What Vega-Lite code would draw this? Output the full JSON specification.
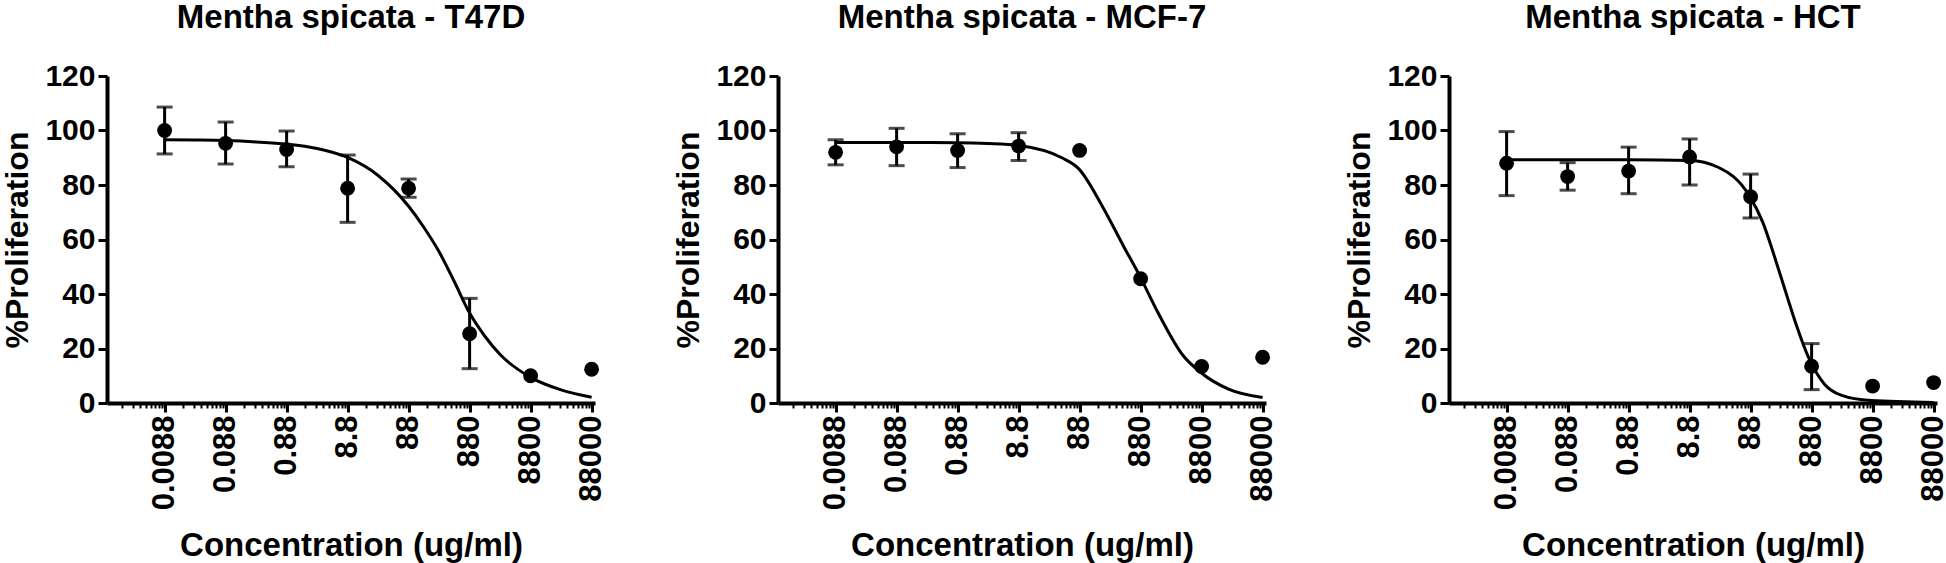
{
  "$schema": "https://vega.github.io/schema/vega-lite/v6.json",
  "padding": {"left": 1, "top": 2, "right": 0, "bottom": 0},
  "background": "white",
  "spacing": 183,
  "bounds": "flush",
  "config": {
    "view": {"stroke": null},
    "axis": {"grid": false, "domainColor": "black", "tickColor": "black", "labelColor": "black", "titleColor": "black", "labelFont": "Liberation Sans", "titleFont": "Liberation Sans", "labelFontWeight": "bold", "titleFontWeight": "bold"},
    "title": {"font": "Liberation Sans", "fontSize": 33, "fontWeight": 700, "color": "black", "offset": 26}
  },
  "datasets": {
    "pts": [
      {"panel": "T47D", "conc": 0.0088, "mean": 100.0, "lo": 91.4, "hi": 108.6},
      {"panel": "T47D", "conc": 0.088, "mean": 95.3, "lo": 87.7, "hi": 103.1},
      {"panel": "T47D", "conc": 0.88, "mean": 93.0, "lo": 86.7, "hi": 99.8},
      {"panel": "T47D", "conc": 8.8, "mean": 78.8, "lo": 66.3, "hi": 91.0},
      {"panel": "T47D", "conc": 88, "mean": 78.8, "lo": 75.5, "hi": 82.2},
      {"panel": "T47D", "conc": 880, "mean": 25.4, "lo": 12.6, "hi": 38.4},
      {"panel": "T47D", "conc": 8800, "mean": 10.0, "lo": null, "hi": null},
      {"panel": "T47D", "conc": 88000, "mean": 12.4, "lo": null, "hi": null},
      {"panel": "MCF-7", "conc": 0.0088, "mean": 92.0, "lo": 87.4, "hi": 96.6},
      {"panel": "MCF-7", "conc": 0.088, "mean": 94.0, "lo": 87.1, "hi": 100.8},
      {"panel": "MCF-7", "conc": 0.88, "mean": 92.7, "lo": 86.4, "hi": 98.8},
      {"panel": "MCF-7", "conc": 8.8, "mean": 94.3, "lo": 89.0, "hi": 99.2},
      {"panel": "MCF-7", "conc": 88, "mean": 92.7, "lo": null, "hi": null},
      {"panel": "MCF-7", "conc": 880, "mean": 45.6, "lo": null, "hi": null},
      {"panel": "MCF-7", "conc": 8800, "mean": 13.4, "lo": null, "hi": null},
      {"panel": "MCF-7", "conc": 88000, "mean": 16.8, "lo": null, "hi": null},
      {"panel": "HCT", "conc": 0.0088, "mean": 88.0, "lo": 76.1, "hi": 99.6},
      {"panel": "HCT", "conc": 0.088, "mean": 83.1, "lo": 78.1, "hi": 88.2},
      {"panel": "HCT", "conc": 0.88, "mean": 85.1, "lo": 76.8, "hi": 93.9},
      {"panel": "HCT", "conc": 8.8, "mean": 90.3, "lo": 80.0, "hi": 96.9},
      {"panel": "HCT", "conc": 88, "mean": 75.7, "lo": 67.9, "hi": 84.0},
      {"panel": "HCT", "conc": 880, "mean": 13.5, "lo": 4.9, "hi": 21.8},
      {"panel": "HCT", "conc": 8800, "mean": 6.2, "lo": null, "hi": null},
      {"panel": "HCT", "conc": 88000, "mean": 7.5, "lo": null, "hi": null}
    ],
    "fit": [
      {"panel": "T47D", "conc": 0.0088, "y": 96.6},
      {"panel": "T47D", "conc": 0.0278, "y": 96.5},
      {"panel": "T47D", "conc": 0.088, "y": 96.3},
      {"panel": "T47D", "conc": 0.278, "y": 95.8},
      {"panel": "T47D", "conc": 0.88, "y": 95.0},
      {"panel": "T47D", "conc": 2.78, "y": 93.4},
      {"panel": "T47D", "conc": 8.8, "y": 90.1},
      {"panel": "T47D", "conc": 27.8, "y": 83.5},
      {"panel": "T47D", "conc": 88, "y": 72.2},
      {"panel": "T47D", "conc": 156, "y": 64.5},
      {"panel": "T47D", "conc": 278, "y": 55.5},
      {"panel": "T47D", "conc": 495, "y": 44.5},
      {"panel": "T47D", "conc": 880, "y": 33.0},
      {"panel": "T47D", "conc": 1565, "y": 24.5},
      {"panel": "T47D", "conc": 2783, "y": 17.8},
      {"panel": "T47D", "conc": 8800, "y": 9.4},
      {"panel": "T47D", "conc": 27830, "y": 4.8},
      {"panel": "T47D", "conc": 88000, "y": 2.1},
      {"panel": "MCF-7", "conc": 0.0088, "y": 95.6},
      {"panel": "MCF-7", "conc": 0.088, "y": 95.6},
      {"panel": "MCF-7", "conc": 0.88, "y": 95.5},
      {"panel": "MCF-7", "conc": 2.78, "y": 95.2},
      {"panel": "MCF-7", "conc": 8.8, "y": 94.5},
      {"panel": "MCF-7", "conc": 45, "y": 90.0},
      {"panel": "MCF-7", "conc": 84, "y": 86.1},
      {"panel": "MCF-7", "conc": 217, "y": 71.4},
      {"panel": "MCF-7", "conc": 476, "y": 57.0},
      {"panel": "MCF-7", "conc": 826, "y": 47.2},
      {"panel": "MCF-7", "conc": 1675, "y": 33.4},
      {"panel": "MCF-7", "conc": 4305, "y": 17.6},
      {"panel": "MCF-7", "conc": 8730, "y": 11.0},
      {"panel": "MCF-7", "conc": 24270, "y": 5.1},
      {"panel": "MCF-7", "conc": 88000, "y": 2.0},
      {"panel": "HCT", "conc": 0.0088, "y": 89.3},
      {"panel": "HCT", "conc": 0.088, "y": 89.3},
      {"panel": "HCT", "conc": 0.88, "y": 89.3},
      {"panel": "HCT", "conc": 8.8, "y": 89.0},
      {"panel": "HCT", "conc": 25.3, "y": 86.6},
      {"panel": "HCT", "conc": 83.6, "y": 76.1},
      {"panel": "HCT", "conc": 140, "y": 66.2},
      {"panel": "HCT", "conc": 222, "y": 53.0},
      {"panel": "HCT", "conc": 328, "y": 41.0},
      {"panel": "HCT", "conc": 483, "y": 29.3},
      {"panel": "HCT", "conc": 807, "y": 16.1},
      {"panel": "HCT", "conc": 1432, "y": 6.9},
      {"panel": "HCT", "conc": 2667, "y": 2.9},
      {"panel": "HCT", "conc": 8280, "y": 0.9},
      {"panel": "HCT", "conc": 88000, "y": 0.2}
    ]
  },
  "hconcat": [
    {
      "width": 488, "height": 327,
      "title": {"text": "Mentha spicata - T47D", "fontSize": 33, "fontWeight": 700, "font": "Liberation Sans", "color": "black"},
      "resolve": {"axis": {"x": "independent"}},
      "layer": [
        {
          "data": {"name": "fit"},
          "transform": [{"filter": "datum.panel === 'T47D'"}],
          "mark": {"type": "line", "color": "black", "strokeWidth": 3, "interpolate": "monotone"},
          "encoding": {
            "x": {"field": "conc", "type": "quantitative", "scale": {"type": "log", "domain": [0.001, 100000], "nice": false},
              "axis": {"orient": "bottom", "values": [0.0088, 0.088, 0.88, 8.8, 88, 880, 8800, 88000], "format": "~r", "labelAngle": -90, "labelFontSize": 31, "labelPadding": 3, "labelFlush": false, "labelOverlap": false, "tickSize": 9, "tickWidth": 3, "domainWidth": 4, "title": "Concentration (ug/ml)", "titleFontSize": 33, "titlePadding": 20}},
            "y": {"field": "y", "type": "quantitative", "scale": {"domain": [0, 120], "nice": false},
              "axis": {"values": [0, 20, 40, 60, 80, 100, 120], "labelFontSize": 30, "labelPadding": 3, "tickSize": 9, "tickWidth": 3, "domainWidth": 4, "title": "%Proliferation", "titleFontSize": 32, "titlePadding": 10}}
          }
        },
        {
          "data": {"name": "pts"},
          "transform": [{"filter": "datum.panel === 'T47D' && datum.hi != null"}],
          "mark": {"type": "rule", "color": "black", "strokeWidth": 3},
          "encoding": {"x": {"field": "conc", "type": "quantitative", "axis": null}, "y": {"field": "lo", "type": "quantitative"}, "y2": {"field": "hi"}}
        },
        {
          "data": {"name": "pts"},
          "transform": [{"filter": "datum.panel === 'T47D' && datum.hi != null"}],
          "mark": {"type": "tick", "orient": "horizontal", "color": "black", "size": 16, "thickness": 3},
          "encoding": {"x": {"field": "conc", "type": "quantitative", "axis": null}, "y": {"field": "lo", "type": "quantitative"}}
        },
        {
          "data": {"name": "pts"},
          "transform": [{"filter": "datum.panel === 'T47D' && datum.hi != null"}],
          "mark": {"type": "tick", "orient": "horizontal", "color": "black", "size": 16, "thickness": 3},
          "encoding": {"x": {"field": "conc", "type": "quantitative", "axis": null}, "y": {"field": "hi", "type": "quantitative"}}
        },
        {
          "data": {"name": "pts"},
          "transform": [{"filter": "datum.panel === 'T47D'"}],
          "mark": {"type": "circle", "color": "black", "size": 220, "opacity": 1},
          "encoding": {"x": {"field": "conc", "type": "quantitative",
              "axis": {"orient": "bottom", "values": [0.00176, 0.00264, 0.00352, 0.0044, 0.00528, 0.00616, 0.00704, 0.00792, 0.0176, 0.0264, 0.0352, 0.044, 0.0528, 0.0616, 0.0704, 0.0792, 0.176, 0.264, 0.352, 0.44, 0.528, 0.616, 0.704, 0.792, 1.76, 2.64, 3.52, 4.4, 5.28, 6.16, 7.04, 7.92, 17.6, 26.4, 35.2, 44, 52.8, 61.6, 70.4, 79.2, 176, 264, 352, 440, 528, 616, 704, 792, 1760, 2640, 3520, 4400, 5280, 6160, 7040, 7920, 17600, 26400, 35200, 44000, 52800, 61600, 70400, 79200], "labels": false, "domain": false, "tickSize": 5, "tickWidth": 2, "title": null}},
            "y": {"field": "mean", "type": "quantitative"}}
        }
      ]
    },
    {
      "width": 488, "height": 327,
      "title": {"text": "Mentha spicata - MCF-7", "fontSize": 33, "fontWeight": 700, "font": "Liberation Sans", "color": "black"},
      "resolve": {"axis": {"x": "independent"}},
      "layer": [
        {
          "data": {"name": "fit"},
          "transform": [{"filter": "datum.panel === 'MCF-7'"}],
          "mark": {"type": "line", "color": "black", "strokeWidth": 3, "interpolate": "monotone"},
          "encoding": {
            "x": {"field": "conc", "type": "quantitative", "scale": {"type": "log", "domain": [0.001, 100000], "nice": false},
              "axis": {"orient": "bottom", "values": [0.0088, 0.088, 0.88, 8.8, 88, 880, 8800, 88000], "format": "~r", "labelAngle": -90, "labelFontSize": 31, "labelPadding": 3, "labelFlush": false, "labelOverlap": false, "tickSize": 9, "tickWidth": 3, "domainWidth": 4, "title": "Concentration (ug/ml)", "titleFontSize": 33, "titlePadding": 20}},
            "y": {"field": "y", "type": "quantitative", "scale": {"domain": [0, 120], "nice": false},
              "axis": {"values": [0, 20, 40, 60, 80, 100, 120], "labelFontSize": 30, "labelPadding": 3, "tickSize": 9, "tickWidth": 3, "domainWidth": 4, "title": "%Proliferation", "titleFontSize": 32, "titlePadding": 10}}
          }
        },
        {
          "data": {"name": "pts"},
          "transform": [{"filter": "datum.panel === 'MCF-7' && datum.hi != null"}],
          "mark": {"type": "rule", "color": "black", "strokeWidth": 3},
          "encoding": {"x": {"field": "conc", "type": "quantitative", "axis": null}, "y": {"field": "lo", "type": "quantitative"}, "y2": {"field": "hi"}}
        },
        {
          "data": {"name": "pts"},
          "transform": [{"filter": "datum.panel === 'MCF-7' && datum.hi != null"}],
          "mark": {"type": "tick", "orient": "horizontal", "color": "black", "size": 16, "thickness": 3},
          "encoding": {"x": {"field": "conc", "type": "quantitative", "axis": null}, "y": {"field": "lo", "type": "quantitative"}}
        },
        {
          "data": {"name": "pts"},
          "transform": [{"filter": "datum.panel === 'MCF-7' && datum.hi != null"}],
          "mark": {"type": "tick", "orient": "horizontal", "color": "black", "size": 16, "thickness": 3},
          "encoding": {"x": {"field": "conc", "type": "quantitative", "axis": null}, "y": {"field": "hi", "type": "quantitative"}}
        },
        {
          "data": {"name": "pts"},
          "transform": [{"filter": "datum.panel === 'MCF-7'"}],
          "mark": {"type": "circle", "color": "black", "size": 220, "opacity": 1},
          "encoding": {"x": {"field": "conc", "type": "quantitative",
              "axis": {"orient": "bottom", "values": [0.00176, 0.00264, 0.00352, 0.0044, 0.00528, 0.00616, 0.00704, 0.00792, 0.0176, 0.0264, 0.0352, 0.044, 0.0528, 0.0616, 0.0704, 0.0792, 0.176, 0.264, 0.352, 0.44, 0.528, 0.616, 0.704, 0.792, 1.76, 2.64, 3.52, 4.4, 5.28, 6.16, 7.04, 7.92, 17.6, 26.4, 35.2, 44, 52.8, 61.6, 70.4, 79.2, 176, 264, 352, 440, 528, 616, 704, 792, 1760, 2640, 3520, 4400, 5280, 6160, 7040, 7920, 17600, 26400, 35200, 44000, 52800, 61600, 70400, 79200], "labels": false, "domain": false, "tickSize": 5, "tickWidth": 2, "title": null}},
            "y": {"field": "mean", "type": "quantitative"}}
        }
      ]
    },
    {
      "width": 488, "height": 327,
      "title": {"text": "Mentha spicata - HCT", "fontSize": 33, "fontWeight": 700, "font": "Liberation Sans", "color": "black"},
      "resolve": {"axis": {"x": "independent"}},
      "layer": [
        {
          "data": {"name": "fit"},
          "transform": [{"filter": "datum.panel === 'HCT'"}],
          "mark": {"type": "line", "color": "black", "strokeWidth": 3, "interpolate": "monotone"},
          "encoding": {
            "x": {"field": "conc", "type": "quantitative", "scale": {"type": "log", "domain": [0.001, 100000], "nice": false},
              "axis": {"orient": "bottom", "values": [0.0088, 0.088, 0.88, 8.8, 88, 880, 8800, 88000], "format": "~r", "labelAngle": -90, "labelFontSize": 31, "labelPadding": 3, "labelFlush": false, "labelOverlap": false, "tickSize": 9, "tickWidth": 3, "domainWidth": 4, "title": "Concentration (ug/ml)", "titleFontSize": 33, "titlePadding": 20}},
            "y": {"field": "y", "type": "quantitative", "scale": {"domain": [0, 120], "nice": false},
              "axis": {"values": [0, 20, 40, 60, 80, 100, 120], "labelFontSize": 30, "labelPadding": 3, "tickSize": 9, "tickWidth": 3, "domainWidth": 4, "title": "%Proliferation", "titleFontSize": 32, "titlePadding": 10}}
          }
        },
        {
          "data": {"name": "pts"},
          "transform": [{"filter": "datum.panel === 'HCT' && datum.hi != null"}],
          "mark": {"type": "rule", "color": "black", "strokeWidth": 3},
          "encoding": {"x": {"field": "conc", "type": "quantitative", "axis": null}, "y": {"field": "lo", "type": "quantitative"}, "y2": {"field": "hi"}}
        },
        {
          "data": {"name": "pts"},
          "transform": [{"filter": "datum.panel === 'HCT' && datum.hi != null"}],
          "mark": {"type": "tick", "orient": "horizontal", "color": "black", "size": 16, "thickness": 3},
          "encoding": {"x": {"field": "conc", "type": "quantitative", "axis": null}, "y": {"field": "lo", "type": "quantitative"}}
        },
        {
          "data": {"name": "pts"},
          "transform": [{"filter": "datum.panel === 'HCT' && datum.hi != null"}],
          "mark": {"type": "tick", "orient": "horizontal", "color": "black", "size": 16, "thickness": 3},
          "encoding": {"x": {"field": "conc", "type": "quantitative", "axis": null}, "y": {"field": "hi", "type": "quantitative"}}
        },
        {
          "data": {"name": "pts"},
          "transform": [{"filter": "datum.panel === 'HCT'"}],
          "mark": {"type": "circle", "color": "black", "size": 220, "opacity": 1},
          "encoding": {"x": {"field": "conc", "type": "quantitative",
              "axis": {"orient": "bottom", "values": [0.00176, 0.00264, 0.00352, 0.0044, 0.00528, 0.00616, 0.00704, 0.00792, 0.0176, 0.0264, 0.0352, 0.044, 0.0528, 0.0616, 0.0704, 0.0792, 0.176, 0.264, 0.352, 0.44, 0.528, 0.616, 0.704, 0.792, 1.76, 2.64, 3.52, 4.4, 5.28, 6.16, 7.04, 7.92, 17.6, 26.4, 35.2, 44, 52.8, 61.6, 70.4, 79.2, 176, 264, 352, 440, 528, 616, 704, 792, 1760, 2640, 3520, 4400, 5280, 6160, 7040, 7920, 17600, 26400, 35200, 44000, 52800, 61600, 70400, 79200], "labels": false, "domain": false, "tickSize": 5, "tickWidth": 2, "title": null}},
            "y": {"field": "mean", "type": "quantitative"}}
        }
      ]
    }
  ]
}
